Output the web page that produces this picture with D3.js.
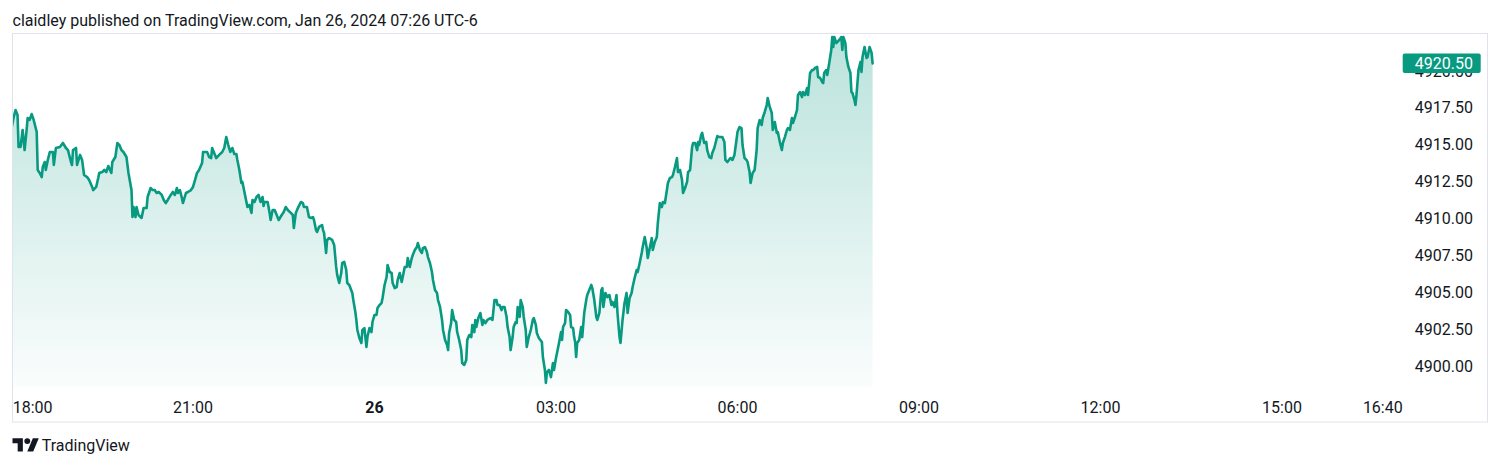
<!DOCTYPE html>
<html>
<head>
<meta charset="utf-8">
<script src="https://cdn.jsdelivr.net/npm/d3@7"></script>
<style>
  html, body { margin: 0; padding: 0; background: #ffffff; }
  svg { display: block; }
  text { font-family: Roboto, "Noto Sans", sans-serif; fill: #131722; }
</style>
</head>
<body>
<svg id="chart" width="1500" height="466"></svg>
<script>
// ---- data ----
const headerText = "claidley published on TradingView.com, Jan 26, 2024 07:26 UTC-6";
const sessionStart = Date.UTC(2024, 0, 25, 18, 0); // Jan 25 18:00 (UTC-6 wall clock)
// minutes since session start
const minutes = [0,2,4,6,7,9,11,13,15,16,18,20,22,25,26,28,30,31,33,34,36,38,41,42,44,48,51,54,56,59,60,61,64,65,68,70,72,75,77,80,81,84,86,87,90,92,94,96,99,100,103,105,107,109,111,114,116,119,120,121,123,124,126,129,131,134,135,138,140,142,144,146,149,151,153,155,158,160,162,164,165,167,169,170,173,175,178,180,182,184,186,189,190,192,194,196,198,199,201,203,206,209,211,213,215,217,219,221,223,224,226,228,229,231,233,234,236,238,239,241,243,245,247,249,250,251,254,256,257,259,261,263,265,268,270,272,274,277,279,280,282,284,287,289,290,293,295,297,299,300,302,303,305,308,309,310,312,313,315,318,320,322,323,325,327,328,330,332,333,335,338,339,341,342,343,345,347,348,350,352,353,355,357,358,360,362,363,365,367,368,370,372,373,375,377,378,380,382,383,385,387,388,390,392,393,395,397,398,400,402,403,405,407,408,410,412,413,415,417,418,420,422,423,425,427,428,430,432,433,434,436,437,439,441,442,444,446,447,449,451,452,454,456,457,459,460,461,463,465,467,468,470,472,475,477,478,479,481,482,484,486,487,489,491,492,494,495,497,498,500,501,502,504,505,507,508,510,511,513,515,517,518,520,521,523,526,527,529,530,531,533,535,537,538,540,541,543,545,546,547,549,550,552,554,555,557,558,559,560,561,563,565,566,568,570,571,573,575,576,578,580,581,583,585,586,587,589,591,593,595,596,598,600,601,603,604,606,608,610,611,613,615,616,618,620,621,623,625,626,628,630,631,633,635,636,638,640,641,643,645,646,648,650,651,653,655,656,658,660,661,663,665,666,668,670,671,673,675,676,678,680,681,682,684,685,687,689,690,692,694,695,697,699,700,702,705,707,708,710,713,715,717,719,720,722,724,725,727,729,730,732,733,735,737,739,740,742,744,745,747,749,750,752,754,755,757,759,760,762,764,765,767,769,770,772,774,775,777,779,780,782,784,785,787,789,790,792,794,795,797,799,800,802,804,805,806,808,809,811,813,814,815,816,818,819,821,823,824,825,827,828,830,832,833,834,836,837,838,840,842,843,844,846,848,849,851,853,854];
const prices = [4916.12,4916.80,4917.34,4917.01,4914.84,4914.84,4915.99,4914.63,4915.99,4916.80,4916.67,4917.07,4916.67,4915.85,4913.28,4913.08,4912.80,4913.48,4913.82,4913.28,4913.96,4914.50,4914.50,4913.62,4914.77,4914.84,4915.11,4914.77,4914.63,4913.82,4913.62,4914.63,4914.77,4913.62,4914.30,4913.96,4912.94,4912.80,4912.60,4912.13,4911.92,4912.13,4912.74,4913.08,4913.14,4913.28,4913.14,4913.55,4913.08,4913.82,4914.16,4915.11,4914.97,4914.63,4914.50,4914.16,4913.08,4911.92,4910.09,4910.77,4910.09,4910.77,4910.23,4910.03,4910.70,4910.70,4911.45,4912.06,4911.92,4911.92,4911.72,4911.79,4911.59,4911.25,4911.04,4911.25,4911.59,4911.79,4911.59,4912.06,4911.72,4911.92,4911.38,4911.04,4911.72,4911.79,4911.92,4912.13,4912.60,4913.08,4913.28,4913.75,4914.50,4914.50,4914.50,4914.16,4914.09,4914.77,4914.43,4914.09,4914.30,4914.50,4914.77,4915.51,4914.97,4914.50,4914.77,4914.36,4914.36,4913.96,4913.28,4912.40,4912.47,4911.79,4911.11,4910.77,4910.91,4910.37,4911.25,4911.11,4911.45,4911.59,4911.11,4911.45,4910.84,4911.11,4911.11,4910.37,4909.89,4910.57,4910.57,4910.23,4909.89,4910.23,4910.43,4910.77,4910.57,4910.37,4910.23,4909.35,4910.37,4910.70,4911.11,4911.04,4910.77,4910.77,4910.09,4910.03,4910.09,4909.89,4909.21,4909.08,4909.42,4909.55,4909.21,4909.01,4907.66,4908.54,4908.67,4908.54,4908.20,4906.71,4906.17,4905.62,4906.30,4906.98,4907.05,4906.50,4905.62,4905.49,4904.95,4904.47,4903.66,4903.12,4902.44,4901.90,4901.56,4902.44,4902.57,4901.29,4901.96,4902.57,4902.30,4902.98,4903.46,4903.46,4903.93,4904.13,4904.27,4904.61,4905.49,4906.03,4906.84,4906.37,4906.30,4905.62,4905.28,4905.35,4905.83,4906.30,4905.69,4906.03,4906.71,4906.71,4907.32,4906.71,4907.32,4907.52,4907.86,4908.06,4908.33,4907.86,4907.66,4907.99,4908.06,4907.72,4907.38,4906.98,4906.37,4905.83,4905.15,4904.95,4904.47,4904.00,4903.12,4902.44,4901.76,4901.42,4901.08,4902.24,4902.91,4903.79,4903.12,4902.98,4902.30,4901.76,4901.08,4900.20,4900.07,4900.41,4901.76,4902.10,4901.96,4902.78,4902.30,4903.12,4902.64,4903.25,4903.59,4902.78,4903.12,4902.91,4903.12,4903.25,4903.12,4903.79,4904.47,4904.47,4904.13,4904.13,4903.79,4904.00,4904.00,4903.32,4902.64,4901.96,4901.08,4901.96,4902.64,4902.98,4902.91,4904.00,4903.32,4904.47,4904.00,4903.32,4902.44,4901.29,4901.96,4902.44,4903.12,4903.25,4902.78,4902.24,4901.90,4901.63,4900.61,4899.73,4898.85,4899.59,4899.73,4899.25,4900.20,4899.73,4900.54,4900.88,4901.56,4902.30,4901.76,4902.64,4902.91,4903.79,4903.66,4903.46,4902.64,4902.57,4901.96,4901.63,4900.61,4901.56,4901.76,4902.64,4901.96,4903.59,4904.47,4904.81,4905.15,4905.49,4905.28,4904.47,4903.32,4903.12,4903.59,4905.15,4905.28,4904.00,4904.95,4904.67,4904.81,4904.13,4904.34,4904.00,4904.81,4903.59,4901.96,4901.56,4903.12,4904.27,4904.95,4903.59,4904.61,4904.95,4905.35,4905.96,4906.50,4906.37,4906.98,4907.66,4908.06,4908.74,4907.99,4907.32,4907.99,4908.67,4907.86,4908.40,4908.74,4909.69,4911.04,4910.77,4911.11,4911.04,4911.92,4912.40,4912.74,4912.80,4912.94,4913.48,4914.09,4913.14,4913.28,4912.60,4911.72,4912.06,4912.47,4913.14,4913.28,4914.84,4915.11,4915.11,4914.63,4915.18,4914.97,4915.65,4915.79,4915.11,4915.18,4914.63,4914.16,4914.09,4914.43,4914.77,4915.31,4915.58,4915.51,4915.51,4915.18,4913.96,4913.82,4914.09,4913.96,4914.30,4915.31,4915.85,4916.19,4916.12,4914.97,4914.09,4913.96,4913.82,4913.14,4912.40,4913.08,4913.28,4914.63,4916.12,4916.67,4916.33,4916.80,4917.21,4917.68,4918.16,4917.55,4917.14,4915.99,4916.53,4915.79,4915.85,4915.18,4914.63,4915.11,4915.51,4915.99,4916.12,4915.99,4916.80,4916.46,4916.87,4917.34,4918.36,4918.56,4918.22,4918.56,4918.36,4918.83,4918.36,4919.85,4920.05,4920.05,4920.19,4920.26,4919.58,4919.51,4919.24,4919.17,4919.85,4920.05,4919.72,4920.53,4921.41,4922.29,4921.61,4922.29,4921.88,4921.95,4922.09,4922.29,4921.41,4922.29,4921.88,4920.93,4920.26,4919.85,4918.56,4918.50,4918.02,4917.68,4918.36,4920.05,4920.60,4919.92,4920.93,4921.61,4920.87,4920.93,4921.61,4921.21,4920.50];
const lastPrice = 4920.50;
const priceTicks = [4900.00, 4902.50, 4905.00, 4907.50, 4910.00, 4912.50, 4915.00, 4917.50, 4920.00];
// time tick labels: minutes since session start and label text
const timeTickMinutes = [0, 180, 360, 540, 720, 900, 1080, 1260, 1360];
const timeTickLabels = ["18:00", "21:00", "26", "03:00", "06:00", "09:00", "12:00", "15:00", "16:40"];
const timeTickBold = [false, false, true, false, false, false, false, false, false];

// ---- layout ----
const W = 1500, H = 466;
const frame = {left: 12, top: 33, right: 1488, bottom: 422.5};
const plotBottom = 387;
const green = "#089981";

const svg = d3.select("#chart");

const data = minutes.map((m, i) => ({t: new Date(sessionStart + m * 60000), p: prices[i]}));

const x = d3.scaleUtc()
  .domain([new Date(sessionStart), new Date(sessionStart + 1360 * 60000)])
  .range([11.5, 1382.8]);
const y = d3.scaleLinear().domain([4900, 4920]).range([366, 70.8]);

// header
svg.append("text").attr("x", 12.5).attr("y", 25.5)
  .attr("font-size", 16).text(headerText);

// frame
svg.append("rect")
  .attr("x", frame.left + 0.5).attr("y", frame.top + 0.5)
  .attr("width", frame.right - frame.left - 1).attr("height", frame.bottom - frame.top - 1)
  .attr("fill", "none").attr("stroke", "#e0e3eb").attr("stroke-width", 1);

// gradient
const defs = svg.append("defs");
const grad = defs.append("linearGradient").attr("id", "areaGrad")
  .attr("gradientUnits", "userSpaceOnUse")
  .attr("x1", 0).attr("x2", 0).attr("y1", frame.top).attr("y2", plotBottom);
grad.append("stop").attr("offset", 0).attr("stop-color", green).attr("stop-opacity", 0.28);
grad.append("stop").attr("offset", 1).attr("stop-color", green).attr("stop-opacity", 0.02);

defs.append("clipPath").attr("id", "plotClip").append("rect")
  .attr("x", frame.left + 1).attr("y", frame.top + 1)
  .attr("width", 1398 - frame.left).attr("height", plotBottom - frame.top);

const g = svg.append("g").attr("clip-path", "url(#plotClip)");

const area = d3.area().x(d => x(d.t)).y0(plotBottom).y1(d => y(d.p));
g.append("path").datum(data).attr("d", area).attr("fill", "url(#areaGrad)");

const line = d3.line().x(d => x(d.t)).y(d => y(d.p));
g.append("path").datum(data).attr("d", line)
  .attr("fill", "none").attr("stroke", green).attr("stroke-width", 2.6)
  .attr("stroke-linejoin", "round").attr("stroke-linecap", "round");

// price axis labels (the 4920.00 label sits under the last-price tag, as in the original)
const yAxis = svg.append("g");
yAxis.selectAll("text").data(priceTicks).join("text")
  .attr("x", 1473).attr("y", d => y(d) + 5.7)
  .attr("text-anchor", "end").attr("font-size", 16)
  .text(d => d.toFixed(2));

// last price label
const ly = y(lastPrice);
svg.append("rect")
  .attr("x", 1402.7).attr("y", ly - 10).attr("width", 78).attr("height", 19.6)
  .attr("rx", 2).attr("fill", green);
svg.append("text")
  .attr("x", 1473).attr("y", ly + 5.7)
  .attr("text-anchor", "end").attr("font-size", 16)
  .style("fill", "#ffffff").text(lastPrice.toFixed(2));

// time axis labels
const xAxis = svg.append("g");
timeTickMinutes.forEach((m, i) => {
  const px = x(new Date(sessionStart + m * 60000));
  const first = i === 0;
  xAxis.append("text")
    .attr("x", first ? px + 1.2 : px)
    .attr("y", 412.5)
    .attr("text-anchor", first ? "start" : "middle")
    .attr("font-size", 16)
    .attr("font-weight", timeTickBold[i] ? 700 : 400)
    .text(timeTickLabels[i]);
});

// TradingView logo
const logo = svg.append("g").attr("transform", "translate(12.5,435.2) scale(0.74)");
logo.append("path").attr("d", "M14 22H7V11H0V4h14v18z").attr("fill", "#131722");
logo.append("path").attr("d", "M28 22h-8l7.5-18h8L28 22z").attr("fill", "#131722");
logo.append("circle").attr("cx", 20).attr("cy", 8).attr("r", 4).attr("fill", "#131722");
svg.append("text").attr("x", 41.7).attr("y", 451).attr("font-size", 16).text("TradingView");
</script>
</body>
</html>
